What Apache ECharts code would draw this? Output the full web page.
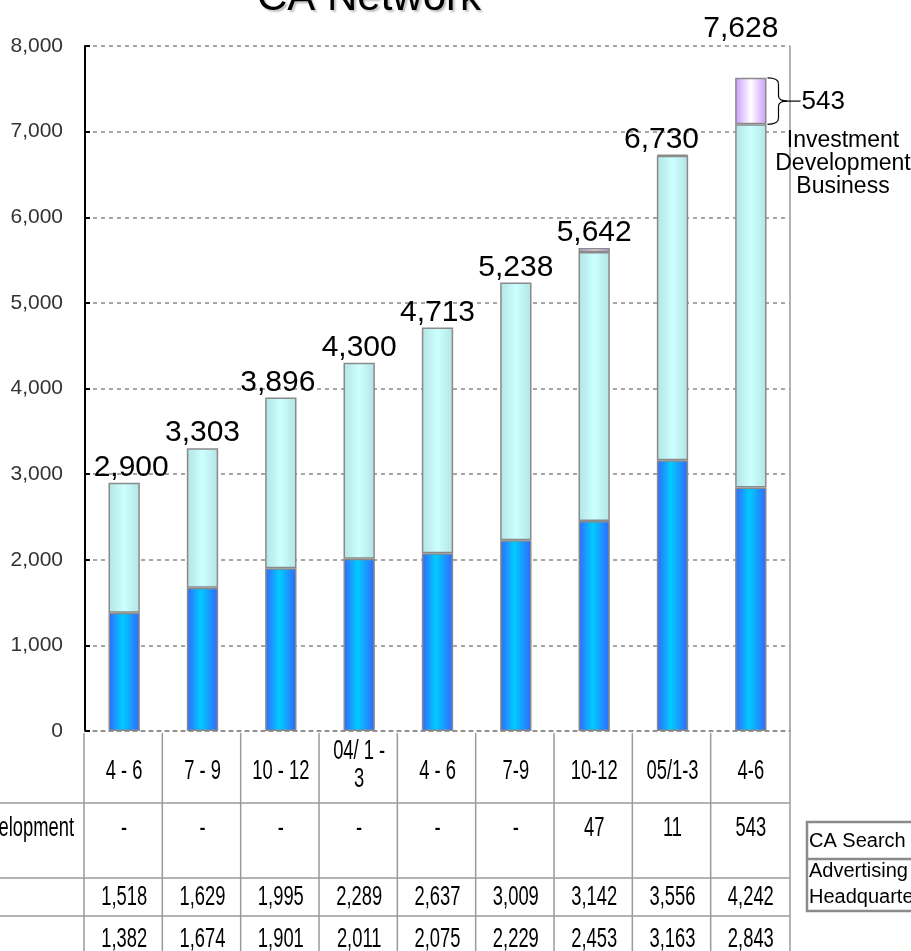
<!DOCTYPE html>
<html><head><meta charset="utf-8">
<script src="https://cdn.jsdelivr.net/npm/echarts/dist/echarts.min.js"></script>
<style>html,body{margin:0;padding:0;background:#fff}#c{width:911px;height:951px}</style>
</head><body><div id="c"></div>
<script>
// ---- data ----
const categories = ['4 - 6', '7 - 9', '10 - 12', '04/ 1 -\n3', '4 - 6', '7-9', '10-12', '05/1-3', '4-6'];
const headquarters = [1382, 1674, 1901, 2011, 2075, 2229, 2453, 3163, 2843];
const caSearch = [1518, 1629, 1995, 2289, 2637, 3009, 3142, 3556, 4242];
const investment = [null, null, null, null, null, null, 47, 11, 543];
const totals = [2900, 3303, 3896, 4300, 4713, 5238, 5642, 6730, 7628];
const titleText = 'CA Network';
const investRowLabel = 'Investment Development';
const annotValue = 543;
const annotText = 'Investment\nDevelopment\nBusiness';
const boxLabels = ['CA Search', 'Advertising\nHeadquarters'];

// ---- style ----
const ARIAL = "'Liberation Sans',Arial,Helvetica,sans-serif";
const fmt = v => (v == null ? '-' : v.toLocaleString('en-US'));
function grad(edge, center, mid) {
  return {type: 'linear', x: 0, y: 0, x2: 1, y2: 0,
    colorStops: [{offset: 0, color: edge}, {offset: mid, color: center}, {offset: 1, color: edge}]};
}
const labelAdjust = {0: [7, 0], 2: [-3, 0], 7: [-11, 0], 8: [-10, -34]};

const chart = echarts.init(document.getElementById('c'), null, {renderer: 'canvas'});
const barStyle = {borderColor: '#8a8a8a', borderWidth: 1.5};
chart.setOption({
  animation: false,
  grid: {left: 85, right: 121, top: 46, bottom: 220},
  xAxis: {type: 'category', data: categories,
    axisLine: {lineStyle: {color: '#8a8a8a', type: [4, 4], width: 1.5}},
    axisTick: {show: false}, axisLabel: {show: false}},
  yAxis: {type: 'value', min: 0, max: 8000, interval: 1000,
    axisLine: {show: true, lineStyle: {color: '#000', width: 2}},
    axisTick: {show: true, inside: true, length: 5, lineStyle: {color: '#000', width: 2}},
    splitLine: {lineStyle: {color: '#8a8a8a', type: [4, 4], width: 1.5}},
    axisLabel: {fontFamily: ARIAL, fontSize: 21, color: '#333', margin: 22, formatter: v => fmt(v)}},
  series: [
    {name: 'Advertising Headquarters', type: 'bar', stack: 't', barWidth: '40%', data: headquarters,
      itemStyle: Object.assign({color: grad('#3366ff', '#00ccff', 0.45)}, barStyle)},
    {name: 'CA Search', type: 'bar', stack: 't', data: caSearch,
      itemStyle: Object.assign({color: grad('#b4e4e4', '#ccffff', 0.5)}, barStyle)},
    {name: 'Investment Development Business', type: 'bar', stack: 't', data: investment,
      itemStyle: Object.assign({color: grad('#cc99ff', '#ffffff', 0.5)}, barStyle)}
  ]
});

// ---- graphic overlay: totals, title, table, annotation ----
const px = i => chart.convertToPixel({xAxisIndex: 0}, i);
const py = v => chart.convertToPixel({yAxisIndex: 0}, v);
const cw = px(1) - px(0);
const gLeft = px(0) - cw / 2, gRight = px(categories.length - 1) + cw / 2;
const g = [];
const lineC = '#9a9a9a';
function line(x1, y1, x2, y2, c, w) { g.push({type: 'line', shape: {x1, y1, x2, y2}, style: {stroke: c || lineC, lineWidth: w || 1.5}, silent: true, z: 10}); }
function curve(x1, y1, cx, cy, x2, y2) { g.push({type: 'bezierCurve', shape: {x1, y1, x2, y2, cpx1: cx, cpy1: cy}, style: {stroke: '#000', fill: null, lineWidth: 1.2}, silent: true, z: 10}); }
function text(str, x, y, opt) {
  opt = opt || {};
  g.push({type: 'text', x, y, scaleX: opt.sx || 1, scaleY: opt.sy || 1, silent: true, z: 10,
    style: {text: str, font: opt.font, fill: opt.fill || '#000',
      align: opt.align || 'center', textAlign: opt.align || 'center',
      verticalAlign: 'middle', textVerticalAlign: 'middle', lineHeight: opt.lh,
      textShadowColor: opt.shadow || 'transparent', textShadowOffsetX: opt.shadow ? 2 : 0, textShadowOffsetY: opt.shadow ? 2 : 0, textShadowBlur: opt.shadow ? 2 : 0}});
}
// total labels above stacks
totals.forEach((v, i) => {
  const a = labelAdjust[i] || [0, 0];
  text(fmt(v), px(i) + a[0], py(v) - 15 + a[1], {font: '30px ' + ARIAL});
});
// title
text(titleText, 369, -2, {font: '42px ' + ARIAL, shadow: 'rgba(0,0,0,0.25)'});
// right border of plot
line(gRight, py(8000), gRight, 951, lineC, 1.5);
// table lines
const tTop = py(0) + 2;
for (let i = 0; i < categories.length; i++) line(gLeft + i * cw - 1, tTop, gLeft + i * cw - 1, 951);
[803, 878, 916].forEach(y => line(0, y, gRight, y));
// table text (condensed look)
const tFont = '27px ' + ARIAL, SX = 0.68;
categories.forEach((c, i) => {
  const two = c.indexOf('\n') >= 0;
  text(c, px(i), two ? 766 : 772, {font: tFont, sx: SX, lh: 28});
  text(fmt(investment[i]), px(i), 829, {font: tFont, sx: SX});
  text(fmt(caSearch[i]), px(i), 898, {font: tFont, sx: SX});
  text(fmt(headquarters[i]), px(i), 940, {font: tFont, sx: SX});
});
text(investRowLabel, 74, 829, {font: tFont, sx: SX, align: 'right'});
// legend-like box on the right
g.push({type: 'rect', shape: {x: 807, y: 822, width: 130, height: 89}, style: {fill: 'none', stroke: '#8a8a8a', lineWidth: 2.5}, silent: true});
line(807, 859, 911, 859, '#8a8a8a', 2.5);
text(boxLabels[0], 809, 841, {font: '20px ' + ARIAL, align: 'left'});
text(boxLabels[1], 809, 884, {font: '20px ' + ARIAL, align: 'left', lh: 26});
// brace annotation on last bar
const last = categories.length - 1;
const xr = px(last) + cw * 0.2;
const yT = py(totals[last]), yB = py(totals[last] - annotValue), ym = (yT + yB) / 2;
const x0 = xr + 1, x1 = xr + 12, x2 = xr + 21;
curve(x0, yT, x1, yT, x1, yT + 6);
line(x1, yT + 6, x1, ym - 5, '#000', 1.2);
curve(x1, ym - 5, x1, ym, x2, ym);
curve(x2, ym, x1, ym, x1, ym + 5);
line(x1, ym + 5, x1, yB - 6, '#000', 1.2);
curve(x1, yB - 6, x1, yB, x0, yB);
line(x2, ym, x2 + 13, ym, '#000', 1.2);
text(fmt(annotValue), x2 + 14, ym + 1, {font: '26px ' + ARIAL, align: 'left'});
text(annotText, 843, 164, {font: '23px ' + ARIAL, lh: 23});
chart.setOption({graphic: {elements: g}});
</script>
</body></html>
